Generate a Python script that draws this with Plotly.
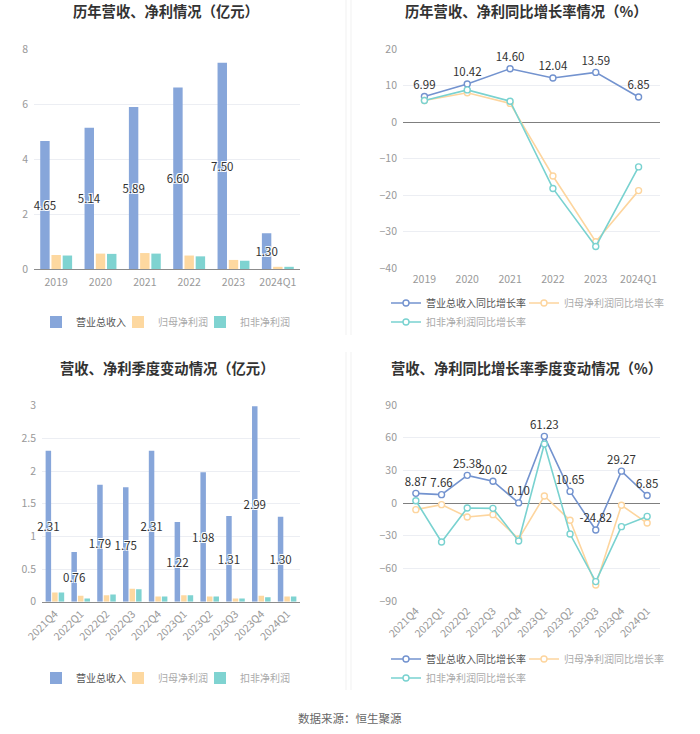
import plotly.graph_objects as go

# ---------------- data ----------------
years = ["2019", "2020", "2021", "2022", "2023", "2024Q1"]
rev_annual = [4.65, 5.14, 5.89, 6.60, 7.50, 1.30]
np_annual = [0.51, 0.56, 0.58, 0.49, 0.33, 0.08]
dnp_annual = [0.49, 0.55, 0.56, 0.46, 0.30, 0.08]

rev_growth = [6.99, 10.42, 14.60, 12.04, 13.59, 6.85]
np_growth = [5.9, 8.0, 5.1, -14.8, -32.8, -18.8]
dnp_growth = [5.9, 8.8, 5.7, -18.2, -34.1, -12.3]

quarters = ["2021Q4", "2022Q1", "2022Q2", "2022Q3", "2022Q4",
            "2023Q1", "2023Q2", "2023Q3", "2023Q4", "2024Q1"]
rev_q = [2.31, 0.76, 1.79, 1.75, 2.31, 1.22, 1.98, 1.31, 2.99, 1.30]
np_q = [0.14, 0.09, 0.10, 0.20, 0.08, 0.10, 0.08, 0.05, 0.09, 0.08]
dnp_q = [0.14, 0.05, 0.11, 0.19, 0.08, 0.10, 0.08, 0.05, 0.07, 0.08]

rev_q_growth = [8.87, 7.66, 25.38, 20.02, 0.10, 61.23, 10.65, -24.82, 29.27, 6.85]
np_q_growth = [-6.1, -1.5, -12.9, -10.7, -33.0, 6.4, -15.9, -75.3, -2.1, -18.4]
dnp_q_growth = [2.1, -35.8, -4.6, -4.9, -34.9, 54.2, -28.5, -72.2, -21.7, -12.3]

names_bar = ["营业总收入", "归母净利润", "扣非净利润"]
names_line = ["营业总收入同比增长率", "归母净利润同比增长率", "扣非净利润同比增长率"]

titles = ["历年营收、净利情况（亿元）", "历年营收、净利同比增长率情况（%）",
          "营收、净利季度变动情况（亿元）", "营收、净利同比增长率季度变动情况（%）"]
source_text = "数据来源：恒生聚源"

# ---------------- style ----------------
FONT = "Noto Sans CJK SC, Noto Sans, sans-serif"
C_REV_BAR = "#87a6da"
C_NP_BAR = "#fdd8a0"
C_DNP_BAR = "#7fd3d1"
C_REV_LINE = "#7393cf"
C_NP_LINE = "#fdd59e"
C_DNP_LINE = "#79d2d0"
TICK_COLOR = "#999999"
GRID = "#eceef3"
W, H = 700, 734

label_shadow = "1px 1px 0 #fff, -1px -1px 0 #fff, 1px -1px 0 #fff, -1px 1px 0 #fff"

fig = go.Figure()


def add_bars(x, rev, npv, dnp, xa, ya, legends):
    fig.add_trace(go.Bar(
        x=x, y=rev, name=names_bar[0], marker_color=C_REV_BAR,
        xaxis=xa, yaxis=ya, legend=legends[0],
        text=rev, texttemplate="%{y:.2f}", textposition="inside",
        insidetextanchor="middle", textangle=0, constraintext="none",
        cliponaxis=False,
        textfont=dict(size=11.5, color="#333333", shadow=label_shadow),
        hoverinfo="skip"))
    fig.add_trace(go.Bar(
        x=x, y=npv, name=names_bar[1], marker_color=C_NP_BAR,
        xaxis=xa, yaxis=ya, legend=legends[1], hoverinfo="skip"))
    fig.add_trace(go.Bar(
        x=x, y=dnp, name=names_bar[2], marker_color=C_DNP_BAR,
        xaxis=xa, yaxis=ya, legend=legends[2], hoverinfo="skip"))


def add_lines(x, rev, npv, dnp, xa, ya, legends):
    specs = [(rev, names_line[0], C_REV_LINE, True),
             (npv, names_line[1], C_NP_LINE, False),
             (dnp, names_line[2], C_DNP_LINE, False)]
    for (vals, nm, col, lab), lg in zip(specs, legends):
        fig.add_trace(go.Scatter(
            x=x, y=vals, name=nm, xaxis=xa, yaxis=ya, legend=lg,
            mode="lines+markers+text" if lab else "lines+markers",
            line=dict(color=col, width=1.6),
            marker=dict(symbol="circle", size=6, color="white",
                        line=dict(color=col, width=1.4)),
            text=vals if lab else None,
            texttemplate="%{y:.2f}" if lab else None,
            textposition="top center",
            textfont=dict(size=11.5, color="#333333"),
            cliponaxis=False, hoverinfo="skip"))


add_bars(years, rev_annual, np_annual, dnp_annual, "x", "y",
         ["legend", "legend2", "legend3"])
add_lines(years, rev_growth, np_growth, dnp_growth, "x2", "y2",
          ["legend4", "legend5", "legend6"])
add_bars(quarters, rev_q, np_q, dnp_q, "x3", "y3",
         ["legend7", "legend8", "legend9"])
add_lines(quarters, rev_q_growth, np_q_growth, dnp_q_growth, "x4", "y4",
          ["legend10", "legend11", "legend12"])


def px_x(a, b):
    return [a / W, b / W]


def px_y(top, bottom):
    return [1 - bottom / H, 1 - top / H]


tickfont = dict(size=10.5, color=TICK_COLOR, family=FONT)

base_x = dict(type="category", showgrid=False, tickfont=tickfont, ticks="",
              fixedrange=True, automargin=False, zeroline=False,
              ticklabelstandoff=3)
base_y = dict(showgrid=True, gridcolor=GRID, gridwidth=1, tickfont=tickfont,
              zeroline=False, showline=False, ticks="", fixedrange=True,
              automargin=False, ticklabelstandoff=5)

layout_axes = dict(
    xaxis=dict(base_x, domain=px_x(34, 300), anchor="y", showline=True,
               linecolor="#8c8c8c", linewidth=1, range=[-0.5, 5.5]),
    yaxis=dict(base_y, domain=px_y(49, 269), anchor="x", range=[0, 8], dtick=2),
    xaxis2=dict(base_x, domain=px_x(403, 660), anchor="y2", showline=False,
                range=[-0.5, 5.5]),
    yaxis2=dict(base_y, domain=px_y(49, 268), anchor="x2", range=[-40, 20], dtick=10,
                zeroline=True, zerolinecolor="#7f7f7f", zerolinewidth=1),
    xaxis3=dict(base_x, domain=px_x(42, 300), anchor="y3", showline=True,
                linecolor="#8c8c8c", linewidth=1, tickangle=-45, range=[-0.5, 9.5],
                ticklabelstandoff=1),
    yaxis3=dict(base_y, domain=px_y(405.7, 601.7), anchor="x3", range=[0, 3], dtick=0.5),
    xaxis4=dict(base_x, domain=px_x(403, 660), anchor="y4", showline=False,
                tickangle=-45, range=[-0.5, 9.5], ticklabelstandoff=1),
    yaxis4=dict(base_y, domain=px_y(405, 601), anchor="x4", range=[-90, 90], dtick=30,
                zeroline=True, zerolinecolor="#7f7f7f", zerolinewidth=1),
)

# one legend per entry: (legend left edge px, row centre y px, text colour)
legend_spots = [
    (36, 322, "#555555"), (118, 322, "#aaaaaa"), (200, 322, "#aaaaaa"),
    (386, 303, "#555555"), (524, 303, "#aaaaaa"), (386, 322, "#aaaaaa"),
    (36, 678, "#555555"), (118, 678, "#aaaaaa"), (200, 678, "#aaaaaa"),
    (386, 659, "#555555"), (524, 659, "#aaaaaa"), (386, 678, "#aaaaaa"),
]
legends = {}
for i, (lx, cy, col) in enumerate(legend_spots):
    key = "legend" if i == 0 else "legend%d" % (i + 1)
    legends[key] = dict(orientation="h", x=lx / W, xanchor="left",
                        y=1 - cy / H, yanchor="middle",
                        font=dict(size=10, color=col, family=FONT),
                        bgcolor="rgba(0,0,0,0)", borderwidth=0,
                        itemclick=False, itemdoubleclick=False)

annotations = []
title_pos = [(166, 11), (526, 11), (167, 367), (526, 367)]
for t, (cx, cy) in zip(titles, title_pos):
    annotations.append(dict(text="<b>" + t + "</b>", x=cx / W, y=1 - cy / H,
                            xref="paper", yref="paper", showarrow=False,
                            xanchor="center", yanchor="middle",
                            font=dict(size=14.3, color="#333333", family=FONT)))
annotations.append(dict(text=source_text, x=350 / W, y=1 - 718 / H,
                        xref="paper", yref="paper", showarrow=False,
                        xanchor="center", yanchor="middle",
                        font=dict(size=11.5, color="#666666", family=FONT)))

shapes = []
for xpx in (346, 351):
    for (t, b) in ((0, 335), (352, 690)):
        shapes.append(dict(type="line", xref="paper", yref="paper",
                           x0=xpx / W, x1=xpx / W, y0=1 - b / H, y1=1 - t / H,
                           line=dict(color="#f1f1f1", width=1)))

fig.update_layout(
    template="none",
    width=W, height=H,
    margin=dict(l=0, r=0, t=0, b=0, pad=0, autoexpand=False),
    paper_bgcolor="white", plot_bgcolor="white",
    font=dict(family=FONT, color="#333333"),
    barmode="group", bargap=0.24, bargroupgap=0.16,
    showlegend=True,
    annotations=annotations, shapes=shapes,
    **layout_axes, **legends,
)

fig.write_html("out.html", config={"displayModeBar": False},
               post_script="document.body.style.margin='0px';")
